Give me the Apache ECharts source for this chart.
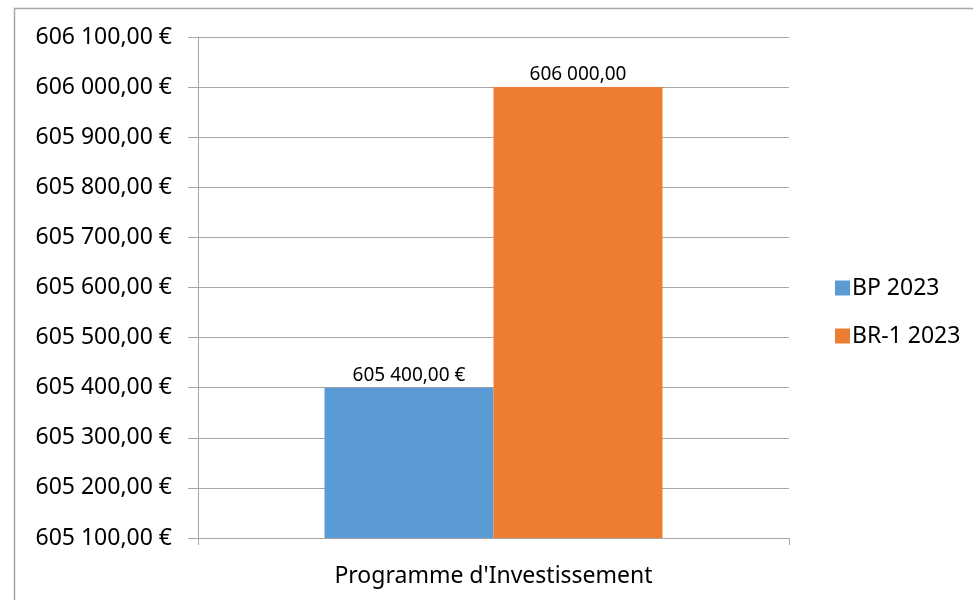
<!DOCTYPE html>
<html>
<head>
<meta charset="utf-8">
<script src="https://cdn.jsdelivr.net/npm/echarts@6/dist/echarts.min.js"></script>
<style>html,body{margin:0;padding:0;background:#fff}#c{width:973px;height:600px}</style>
</head>
<body>
<div id="c"></div>
<script>
var categories = ["Programme d'Investissement"];
var seriesNames = ["BP 2023", "BR-1 2023"];
var bpValues = [605400];
var brValues = [606000];
var yMin = 605100, yMax = 606100, yStep = 100;

function fmt(v) {
  var s = Math.round(v).toString().replace(/\B(?=(\d{3})+(?!\d))/g, ' ');
  return s + ',00';
}

var FONT = '"Noto Sans", sans-serif';
var chart = echarts.init(document.getElementById('c'));
chart.setOption({
  animation: false,
  backgroundColor: '#fff',
  textStyle: { fontFamily: FONT, color: '#000' },
  graphic: [{
    type: 'rect', silent: true, z: -10,
    shape: { x: 14.5, y: 8.5, width: 1000, height: 700 },
    style: { fill: 'none', stroke: '#a6a6a6', lineWidth: 1.5 }
  }],
  grid: { left: 198, right: 184, top: 37, bottom: 62, containLabel: false },
  legend: {
    orient: 'vertical', left: 830, top: 270,
    itemWidth: 15, itemHeight: 15, itemGap: 22,
    icon: 'rect',
    textStyle: { fontFamily: FONT, fontSize: 23, color: '#000', lineHeight: 26, padding: [0, 0, 0, -3] },
    data: seriesNames
  },
  xAxis: {
    type: 'category', data: categories,
    axisLine: { lineStyle: { color: '#a6a6a6', width: 1 } },
    axisTick: { show: true, length: 7, lineStyle: { color: '#a6a6a6' } },
    axisLabel: { fontFamily: FONT, fontSize: 23, color: '#000', margin: 27 }
  },
  yAxis: {
    type: 'value', min: yMin, max: yMax, interval: yStep,
    axisLine: { show: true, lineStyle: { color: '#a6a6a6', width: 1 } },
    axisTick: { show: true, length: 10, lineStyle: { color: '#a6a6a6' } },
    splitLine: { lineStyle: { color: '#a6a6a6', width: 1 } },
    axisLabel: { fontFamily: FONT, fontSize: 23, color: '#000', margin: 26,
      formatter: function (v) { return fmt(v) + ' €'; } }
  },
  series: [{
    name: seriesNames[0], type: 'bar', data: bpValues,
    barWidth: 169, barGap: '0%',
    itemStyle: { color: '#5b9bd5' },
    label: { show: true, position: 'top', distance: 3, fontFamily: FONT, fontSize: 19, color: '#000',
      formatter: function (p) { return fmt(p.value) + ' €'; } }
  }, {
    name: seriesNames[1], type: 'bar', data: brValues,
    barWidth: 169, barGap: '0%',
    itemStyle: { color: '#ed7d31' },
    label: { show: true, position: 'top', distance: 3, fontFamily: FONT, fontSize: 19, color: '#000',
      formatter: function (p) { return fmt(p.value); } }
  }]
});
</script>
</body>
</html>
